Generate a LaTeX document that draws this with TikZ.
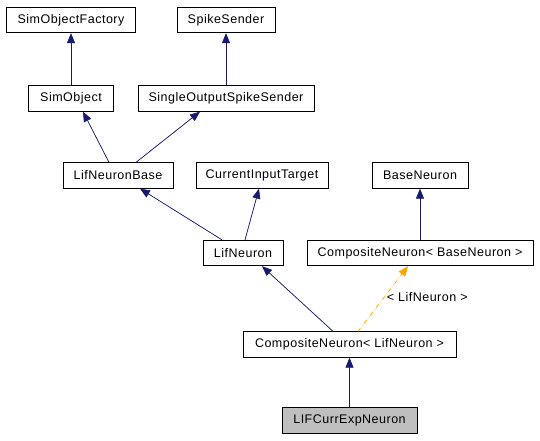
\documentclass[tikz,border=0pt]{standalone}
\usepackage{fontspec}
\setmainfont[LetterSpace=4]{Liberation Sans}
\usepackage{tikz}
\usetikzlibrary{
  calc,
  arrows.meta, % for Triangle tips
  positioning}
\definecolor{navy}{RGB}{25,25,112}
\definecolor{tmplorange}{RGB}{255,165,0}
\tikzstyle{klass} = [draw, fill=white, line width=.8pt, minimum height=25.5pt, inner sep=0pt, font=\fontsize{12.5}{14}\selectfont]
\tikzstyle{current} = [klass, fill={rgb,255:red,191;green,191;blue,191}]
\tikzstyle{inherit} = [->, draw=navy, fill=navy, line width=.7pt]
\tikzstyle{templ} = [->, draw=tmplorange, fill=tmplorange, line width=.7pt, dash pattern=on 4pt off 6pt]

\begin{document}
\begin{tikzpicture}[ x=1pt, y=-1pt, >={Triangle[length=10pt,width=8pt]} ]
\useasboundingbox (0,0) rectangle (540,440);

\node[klass, minimum width=129pt] (factory) at (71,20) {SimObjectFactory};
\node[klass, minimum width=98pt] (sender) at (226,20) {SpikeSender};
\node[klass, minimum width=85pt] (simobj) at (71,98.5) {SimObject};
\node[klass, minimum width=176pt] (single) at (226,98.5) {SingleOutputSpikeSender};
\node[klass, minimum width=110pt] (lifbase) at (118,175.5) {LifNeuronBase};
\node[klass, minimum width=132pt] (cit) at (262,175.5) {CurrentInputTarget};
\node[klass, minimum width=96pt] (baseneuron) at (420,175.5) {BaseNeuron};
\node[klass, minimum width=80pt] (lif) at (243,253) {LifNeuron};
\node[klass, minimum width=226pt] (cnbase) at (420,253) {CompositeNeuron< BaseNeuron >};
\node[klass, minimum width=213pt] (cnlif) at (349.5,344.5) {CompositeNeuron< LifNeuron >};
\node[current, minimum width=135pt] (lifexp) at (349.5,420.5) {LIFCurrExpNeuron};

\draw[inherit] (simobj) -- (factory);
\draw[inherit] (single) -- (sender);
\draw[inherit] ([xshift=-9pt]lifbase.north) -- ([xshift=12pt]simobj.south);
\draw[inherit] ([xshift=18pt]lifbase.north) -- ([xshift=-26pt]single.south);
\draw[inherit] ([xshift=-21pt]lif.north) -- ([xshift=22pt]lifbase.south);
\draw[inherit] ([xshift=2pt]lif.north) -- ([xshift=-3pt]cit.south);
\draw[inherit] (cnbase) -- (baseneuron);
\draw[inherit] ([xshift=-16.5pt]cnlif.north) -- ([xshift=19pt]lif.south);
\draw[templ] ([xshift=8.5pt]cnlif.north) -- node[pos=.53, right, inner sep=2pt, font=\fontsize{12.5}{14}\selectfont] {< LifNeuron >} ([xshift=-12pt]cnbase.south);
\draw[inherit] (lifexp) -- (cnlif);

\end{tikzpicture}
\end{document}
